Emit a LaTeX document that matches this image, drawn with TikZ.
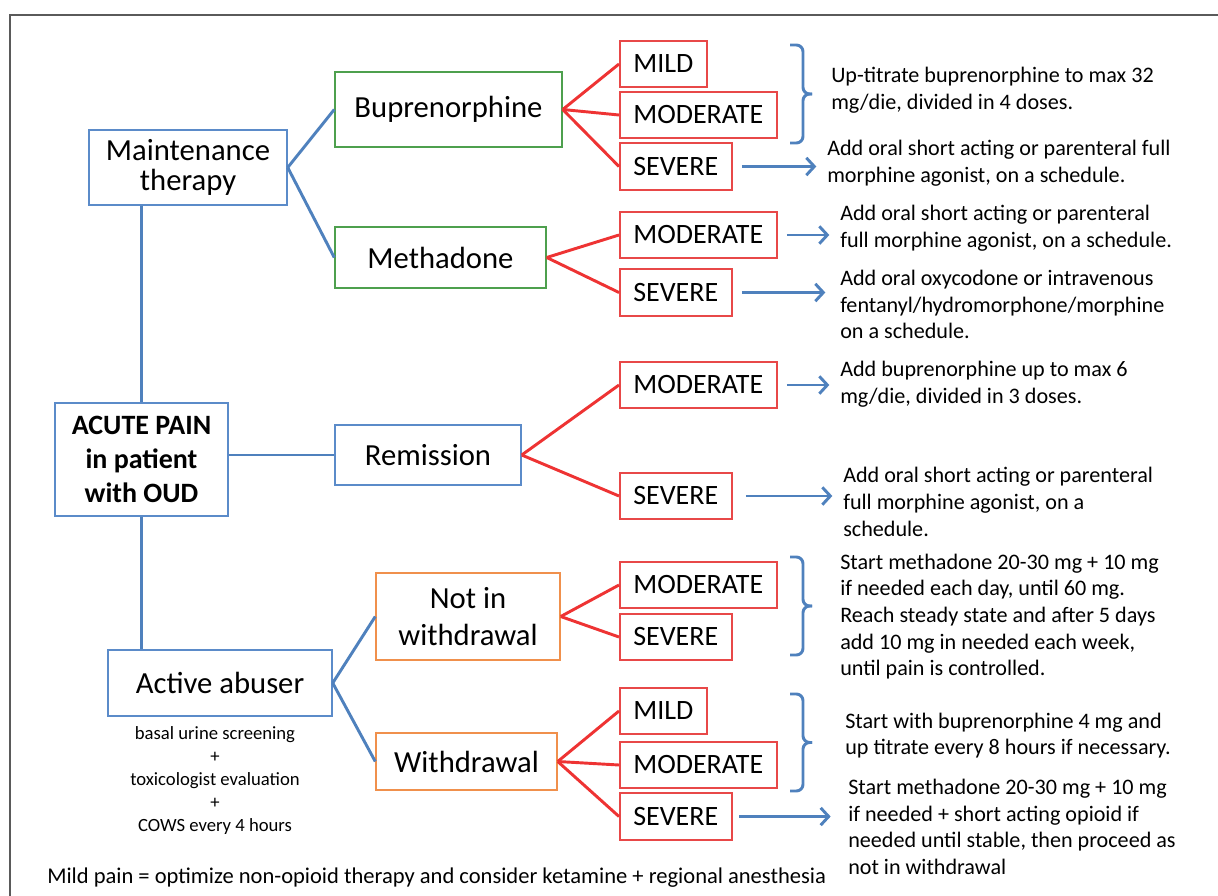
\documentclass[tikz,border=0pt]{standalone}
\usepackage{fontspec}
\setmainfont{Carlito}
\usetikzlibrary{arrows.meta}

\definecolor{linkblue}{HTML}{4F81BD}
\definecolor{boxblue}{HTML}{5B8BC9}
\definecolor{boxgreen}{HTML}{4EA04E}
\definecolor{boxorange}{HTML}{F0904C}
\definecolor{levelred}{HTML}{E84848}
\definecolor{linkred}{HTML}{EE3333}
\definecolor{framegray}{HTML}{5A5A5A}

\tikzset{
  mainbox/.style={draw=boxblue, line width=1.1pt, align=center, inner sep=0pt,
    font=\fontsize{23}{23}\selectfont},
  drugbox/.style={mainbox, draw=boxgreen},
  statebox/.style={mainbox, draw=boxorange},
  levelbox/.style={draw=levelred, line width=1.5pt, anchor=west, inner xsep=10pt,
    minimum height=35pt, font=\fontsize{21}{21}\selectfont},
  note/.style={anchor=west, align=left, inner sep=0pt,
    font=\fontsize{16.6}{20}\selectfont},
  bluelink/.style={draw=linkblue, line width=2.2pt},
  redlink/.style={draw=linkred, line width=2.2pt},
  pointer/.style={bluelink, -{Straight Barb[length=6pt,width=13pt]},
    shorten <=7pt, shorten >=8pt},
  bracket/.style={bluelink, rounded corners=5pt}
}

\begin{document}
\begin{tikzpicture}[x=0.75pt,y=-0.75pt]
\useasboundingbox (0,0) rectangle (1218,896);

%% frame
\draw[framegray, line width=1.2pt] (10,900) -- (10,15) -- (1222,15);

%% left column
\node[mainbox, minimum width=148.5pt, minimum height=56.25pt] (maint) at (188,167.5) {Maintenance\\therapy};
\node[mainbox, minimum width=129.75pt, minimum height=84.75pt,
  font=\fontsize{21}{25.5}\selectfont\bfseries] (acute) at (141.5,459.5) {ACUTE PAIN\\in patient\\with OUD};
\node[mainbox, minimum width=168pt, minimum height=49.5pt] (abuser) at (220,683) {Active abuser};
\node[align=center, inner sep=0pt, font=\fontsize{14}{17.25}\selectfont] (checks) at (215,781)
  {basal urine screening\\+\\toxicologist evaluation\\+\\COWS every 4 hours};

%% second column
\node[drugbox, minimum width=170.25pt, minimum height=56.25pt] (bup) at (448.5,109.5) {Buprenorphine};
\node[drugbox, minimum width=158.25pt, minimum height=45.75pt] (meth) at (440.5,257.5) {Methadone};
\node[mainbox, minimum width=139.5pt, minimum height=45pt] (rem) at (428,455) {Remission};
\node[statebox, minimum width=138pt, minimum height=65.25pt,
  font=\fontsize{23}{28}\selectfont] (notin) at (468,616.5) {Not in\\withdrawal};
\node[statebox, minimum width=135.75pt, minimum height=42.75pt] (withdr) at (466.5,761.5) {Withdrawal};

%% pain levels
\node[levelbox] (bmild) at (619,64) {MILD};
\node[levelbox] (bmod) at (619,115) {MODERATE};
\node[levelbox] (bsev) at (619,166.5) {SEVERE};
\node[levelbox] (mmod) at (619,235) {MODERATE};
\node[levelbox] (msev) at (619,292.5) {SEVERE};
\node[levelbox] (rmod) at (619,385) {MODERATE};
\node[levelbox] (rsev) at (619,496) {SEVERE};
\node[levelbox] (nmod) at (619,585) {MODERATE};
\node[levelbox] (nsev) at (619,637) {SEVERE};
\node[levelbox] (wmild) at (619,711) {MILD};
\node[levelbox] (wmod) at (619,765) {MODERATE};
\node[levelbox] (wsev) at (619,816.5) {SEVERE};

%% notes
\node[note] (bnote) at (831,90) {Up-titrate buprenorphine to max 32\\mg/die, divided in 4 doses.};
\node[note] (bsevnote) at (827,163.5) {Add oral short acting or parenteral full\\morphine agonist, on a schedule.};
\node[note] (mmodnote) at (840,228.5) {Add oral short acting or parenteral\\full morphine agonist, on a schedule.};
\node[note] (msevnote) at (840,304.5) {Add oral oxycodone or intravenous\\fentanyl/hydromorphone/morphine\\on a schedule.};
\node[note] (rmodnote) at (840,384) {Add buprenorphine up to max 6\\mg/die, divided in 3 doses.};
\node[note] (rsevnote) at (843,502) {Add oral short acting or parenteral\\full morphine agonist, on a\\schedule.};
\node[note] (nnote) at (840,616.5) {Start methadone 20-30 mg + 10 mg\\if needed each day, until 60 mg.\\Reach steady state and after 5 days\\add 10 mg in needed each week,\\until pain is controlled.};
\node[note] (wnote) at (845,735.5) {Start with buprenorphine 4 mg and\\up titrate every 8 hours if necessary.};
\node[note] (wsevnote) at (848,827) {Start methadone 20-30 mg + 10 mg\\if needed + short acting opioid if\\needed until stable, then proceed as\\not in withdrawal};
\node[note, font=\fontsize{16.9}{20}\selectfont] (mildpain) at (47,878) {Mild pain = optimize non-opioid therapy and consider ketamine + regional anesthesia};

%% blue links
\draw[bluelink] (maint.south -| acute.north) -- (acute.north);
\draw[bluelink] (acute.south) -- (acute.south |- abuser.north);
\draw[bluelink] (rem.west -| acute.east) -- (rem.west);
\draw[bluelink] (maint.east) -- (bup.west);
\draw[bluelink] (maint.east) -- (meth.west);
\draw[bluelink] (abuser.east) -- (notin.west);
\draw[bluelink] (abuser.east) -- (withdr.west);

%% red links
\foreach \lv in {bmild,bmod,bsev}
  \draw[redlink] (bup.east) -- (\lv.west);
\foreach \lv in {mmod,msev}
  \draw[redlink] (meth.east) -- (\lv.west);
\foreach \lv in {rmod,rsev}
  \draw[redlink] (rem.east) -- (\lv.west);
\foreach \lv in {nmod,nsev}
  \draw[redlink] (notin.east) -- (\lv.west);
\foreach \lv in {wmild,wmod,wsev}
  \draw[redlink] (withdr.east) -- (\lv.west);

%% arrows
\draw[pointer] (bsev.east) -- (bsev.east -| bsevnote.west);
\draw[pointer] (mmod.east) -- (mmod.east -| mmodnote.west);
\draw[pointer, shorten >=11pt] (msev.east) -- (msev.east -| msevnote.west);
\draw[pointer] (rmod.east) -- (rmod.east -| rmodnote.west);
\draw[pointer, shorten <=10pt] (rsev.east) -- (rsev.east -| rsevnote.west);
\draw[pointer, shorten <=5pt, shorten >=13pt] (wsev.east) -- (wsev.east -| wsevnote.west);

%% braces
\foreach \top/\bot in {45/143, 557/655, 694/791}
{
  \draw[bracket] (790,\top) -- (803,\top) -- (803,{(\top+\bot)/2}) -- (812,{(\top+\bot)/2});
  \draw[bracket] (790,\bot) -- (803,\bot) -- (803,{(\top+\bot)/2}) -- (812,{(\top+\bot)/2});
}

\end{tikzpicture}
\end{document}
